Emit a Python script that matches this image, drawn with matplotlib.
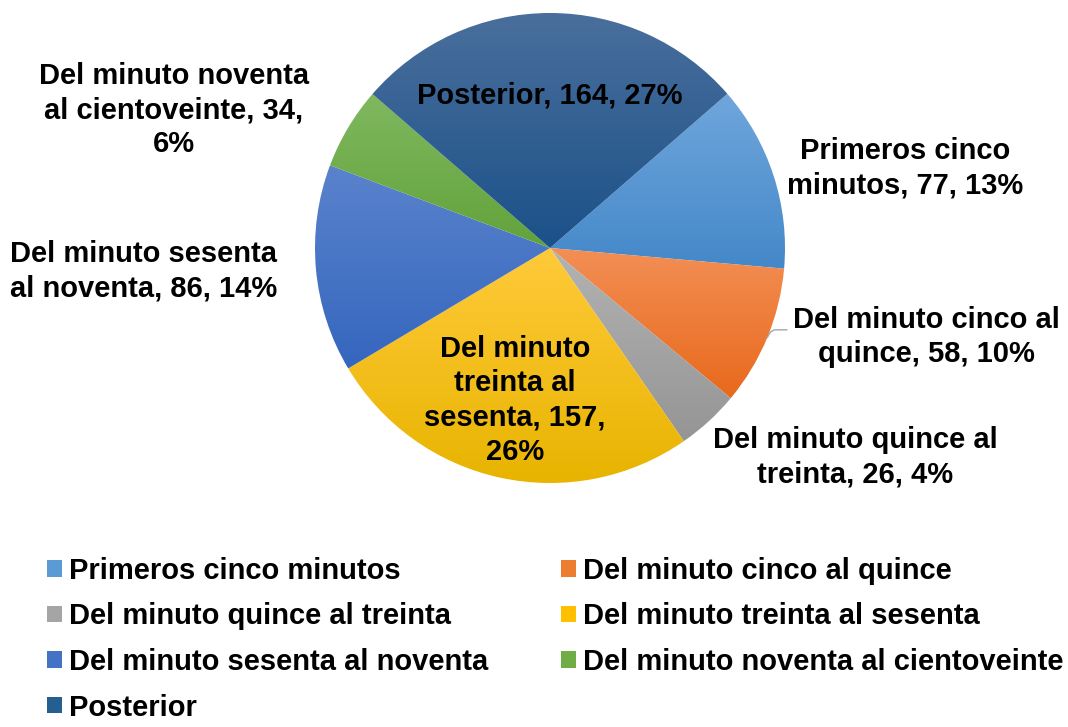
import numpy as np
import matplotlib.pyplot as plt
from matplotlib.patches import Patch
from matplotlib.colors import to_rgb

plt.rcParams['font.family'] = ['Liberation Sans', 'DejaVu Sans']
plt.rcParams['font.weight'] = 'bold'

categories = ["Primeros cinco minutos", "Del minuto cinco al quince",
              "Del minuto quince al treinta", "Del minuto treinta al sesenta",
              "Del minuto sesenta al noventa", "Del minuto noventa al cientoveinte",
              "Posterior"]
values = [77, 58, 26, 157, 86, 34, 164]
label_texts = ["Primeros cinco\nminutos, 77, 13%",
               "Del minuto cinco al\nquince, 58, 10%",
               "Del minuto quince al\ntreinta, 26, 4%",
               "Del minuto\ntreinta al\nsesenta, 157,\n26%",
               "Del minuto sesenta\nal noventa, 86, 14%",
               "Del minuto noventa\nal cientoveinte, 34,\n6%",
               "Posterior, 164, 27%"]

# top / bottom gradient colours
top_colors = ["#6fa6dc", "#f38f55", "#b3b3b3", "#ffca3a", "#5a83cc", "#80b860", "#4a6f9c"]
bot_colors = ["#4488c9", "#e8691c", "#959595", "#e8b400", "#3566be", "#62a23a", "#1b5189"]
legend_colors = ["#5b9bd5", "#ed7d31", "#a5a5a5", "#ffc000", "#4472c4", "#70ad47", "#255e91"]

# label positions in data units (layout)
label_pos = [(1.51, 0.34), (1.60, -0.38), (1.30, -0.89), (-0.15, -0.648),
             (-1.73, -0.10), (-1.60, 0.587), (0.0, 0.651)]

fig = plt.figure(figsize=(10.68, 7.27), dpi=100)
ax = fig.add_axes([315 / 1068, 244 / 727, 470 / 1068, 470 / 727])
wedges, _ = ax.pie(values, startangle=41, counterclock=False, radius=1,
                   wedgeprops=dict(linewidth=0))
ax.set_aspect('equal')
ax.axis('off')

for w, c1, c2 in zip(wedges, top_colors, bot_colors):
    w.set_facecolor('none')
    bb = w.get_path().get_extents(w.get_patch_transform())
    t = np.linspace(0, 1, 256)[:, None]
    grad = (1 - t) * np.array(to_rgb(c1)) + t * np.array(to_rgb(c2))
    grad = grad[:, None, :]
    im = ax.imshow(grad, extent=[bb.x0, bb.x1, bb.y0, bb.y1], origin='upper',
                   aspect='auto', zorder=1, interpolation='bilinear')
    im.set_clip_path(w)

ax.set_xlim(-1, 1)
ax.set_ylim(-1, 1)

for i, (txt, pos) in enumerate(zip(label_texts, label_pos)):
    if i == 1:
        w = wedges[i]
        ang = np.deg2rad((w.theta1 + w.theta2) / 2)
        ax.annotate(txt, xy=(np.cos(ang), np.sin(ang)), xytext=pos,
                    ha='center', va='center', fontsize=21, fontweight='bold',
                    zorder=5, annotation_clip=False, linespacing=1.28,
                    arrowprops=dict(arrowstyle='-', color='#a6a6a6', lw=1,
                                    shrinkA=2, shrinkB=0, relpos=(0, 0.62),
                                    connectionstyle='angle,angleA=0,angleB=60,rad=4'))
    else:
        ax.text(pos[0], pos[1], txt, ha='center', va='center', fontsize=21,
                fontweight='bold', zorder=5, linespacing=1.28)

handles = [Patch(facecolor=c) for c in legend_colors]
order = [0, 2, 4, 6, 1, 3, 5]
fig.legend([handles[i] for i in order], [categories[i] for i in order],
           ncol=2, loc='upper left', bbox_to_anchor=(47 / 1068, 1 - 557 / 727),
           frameon=False, fontsize=21, handlelength=0.5, handleheight=0.5,
           handletextpad=0.25, labelspacing=0.6, columnspacing=2.5,
           borderaxespad=0, borderpad=0)

fig.savefig("out.png", dpi=100)
